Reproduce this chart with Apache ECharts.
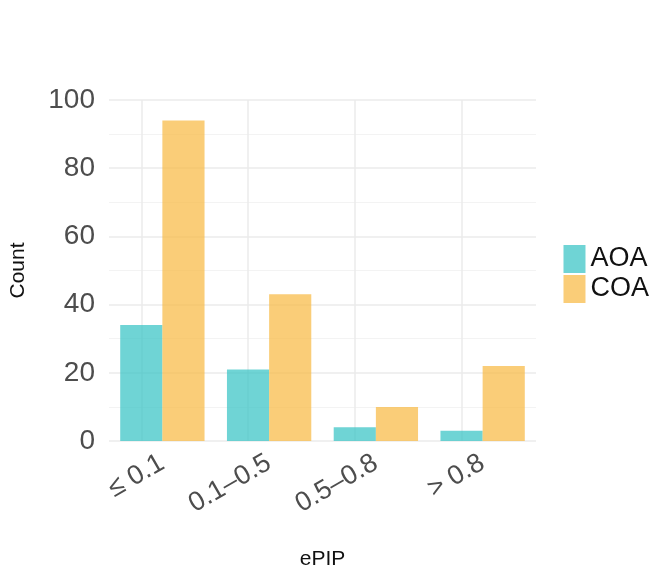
<!DOCTYPE html>
<html><head><meta charset="utf-8">
<script src="https://cdn.jsdelivr.net/npm/echarts@6/dist/echarts.min.js"></script>
<style>html,body{margin:0;padding:0;background:#fff}#c{width:662px;height:578px}</style>
</head><body><div id="c"></div>
<script>
const categories = ['≤ 0.1', '0.1–0.5', '0.5–0.8', '> 0.8'];
const aoa = [34, 21, 4, 3];
const coa = [94, 43, 10, 22];
const yTicks = [0, 20, 40, 60, 80, 100];
const chart = echarts.init(document.getElementById('c'));
const font = 'Liberation Sans, Arial, sans-serif';
chart.setOption({
  animation: false,
  textStyle: { fontFamily: font },
  legend: {
    orient: 'vertical', right: 8, top: 240, itemWidth: 22, itemHeight: 28, itemGap: 2,
    icon: 'rect',
    textStyle: { fontSize: 27, color: '#111', fontFamily: font },
    data: ['AOA', 'COA']
  },
  grid: { left: 98, right: 126, top: 100, bottom: 137 },
  xAxis: {
    type: 'category', data: categories,
    name: 'ePIP', nameLocation: 'middle', nameGap: 108,
    nameTextStyle: { fontSize: 21, color: '#111' },
    axisLine: { show: false }, axisTick: { show: false },
    axisLabel: { rotate: 30, fontSize: 27, color: '#4d4d4d', margin: 20 },
    splitLine: { show: false }
  },
  yAxis: {
    type: 'value', min: 0, max: 100, interval: 20,
    name: 'Count', nameLocation: 'middle', nameGap: 80,
    nameTextStyle: { fontSize: 21, color: '#111' },
    axisLine: { show: false }, axisTick: { show: false },
    axisLabel: { fontSize: 28, color: '#4d4d4d', margin: 14 },
    splitLine: { lineStyle: { color: '#ebebeb', width: 1.5 } },
    minorTick: { show: false, splitNumber: 2 },
    minorSplitLine: { show: true, lineStyle: { color: '#f3f3f3', width: 1 } }
  },
  series: [
    { name: 'AOA', type: 'bar', data: aoa, barGap: '0%', barCategoryGap: '21%', z: 3,
      itemStyle: { color: 'rgba(55,196,197,0.72)' },
      markLine: { silent: true, symbol: 'none', label: { show: false }, z: 1,
        lineStyle: { color: '#ebebeb', width: 1.5, type: 'solid' },
        data: categories.map(c => ({ xAxis: c })) } },
    { name: 'COA', type: 'bar', data: coa, z: 3,
      itemStyle: { color: 'rgba(248,186,68,0.72)' } }
  ]
});
</script></body></html>
